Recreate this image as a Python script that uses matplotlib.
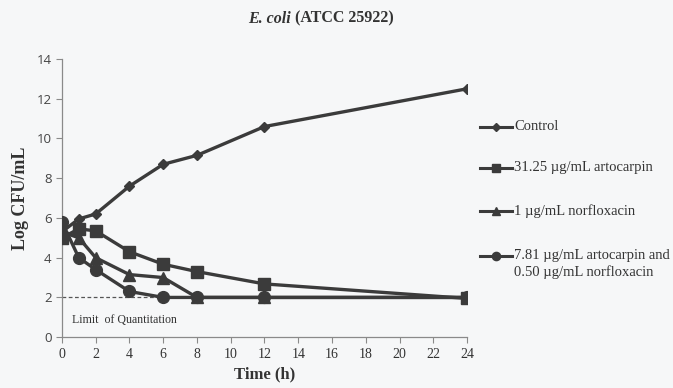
import matplotlib
matplotlib.use("Agg")
import matplotlib.pyplot as plt
from matplotlib.lines import Line2D

# sampling times (h)
time_h = [0, 1, 2, 4, 6, 8, 12, 24]

# log CFU/mL for each treatment
control = [5.3, 5.95, 6.2, 7.6, 8.7, 9.15, 10.6, 12.5]
artocarpin = [5.0, 5.45, 5.35, 4.3, 3.67, 3.3, 2.68, 1.95]
norfloxacin = [5.3, 5.0, 4.0, 3.15, 3.0, 2.0, 2.0, 2.0]
combination = [5.8, 4.0, 3.4, 2.3, 2.0, 2.0, 2.0, 2.0]

labels = ["Control",
          "31.25 \u00b5g/mL artocarpin",
          "1 \u00b5g/mL norfloxacin",
          "7.81 \u00b5g/mL artocarpin and\n0.50 \u00b5g/mL norfloxacin"]
loq = 2.0

serif = ["Liberation Serif", "DejaVu Serif"]
line_col = "#3b3b3b"
bg = "#f6f7f8"

fig = plt.figure(figsize=(6.73, 3.88), dpi=100, facecolor=bg)
ax = fig.add_axes([0.092, 0.131, 0.602, 0.717], facecolor=bg)

series = [
    (control, "D", 5.5),
    (artocarpin, "s", 8),
    (norfloxacin, "^", 8),
    (combination, "o", 8.5),
]

ax.plot([0, 24], [loq, loq], ls=(0, (3, 2)), color="#555555", lw=0.9, zorder=1)
for ys, mk, ms in series:
    ax.plot(time_h, ys, color=line_col, lw=2.4, marker=mk, ms=ms,
            markerfacecolor=line_col, markeredgecolor=line_col, zorder=3)

ax.text(0.6, 0.85, "Limit  of Quantitation", fontsize=8.6, family=serif,
        color="#333333", va="center")

ax.set_xlim(0, 24)
ax.set_ylim(0, 14)
ax.set_xticks(range(0, 25, 2))
ax.set_yticks(range(0, 15, 2))
for s in ["top", "right"]:
    ax.spines[s].set_visible(False)
for s in ["left", "bottom"]:
    ax.spines[s].set_color("#8a8a8a")
    ax.spines[s].set_linewidth(0.9)
ax.tick_params(axis="both", colors="#8a8a8a", length=4, width=0.8)
for lab in ax.get_xticklabels():
    lab.set_family(serif)
    lab.set_fontsize(10)
    lab.set_color("#333333")
for lab in ax.get_yticklabels():
    lab.set_family(["Open Sans", "DejaVu Sans"])
    lab.set_fontsize(9.5)
    lab.set_color("#444444")

ax.set_xlabel("Time (h)", family=serif, fontsize=12, fontweight="bold",
              color="#333333", labelpad=4)
ax.set_ylabel("Log CFU/mL", family=serif, fontsize=13, fontweight="bold",
              color="#333333", labelpad=5)

fig.text(0.432, 0.952, "E. coli", family=serif, fontsize=11.5,
         fontweight="bold", fontstyle="italic", color="#333333",
         ha="right", va="center")
fig.text(0.438, 0.952, "(ATCC 25922)", family=serif, fontsize=11.5,
         fontweight="bold", color="#333333", ha="left", va="center")

# legend drawn by hand so the handle sits on the first text line
leg_y = [127, 168, 211, 256]
x0, x1 = 480 / 673, 512 / 673
for (ys, mk, ms), lab, py in zip(series, labels, leg_y):
    fy = 1 - py / 388
    fig.add_artist(Line2D([x0, (x0 + x1) / 2, x1], [fy, fy, fy],
                          color=line_col, lw=2.2, marker=mk, ms=ms * 0.7,
                          markevery=[1], markerfacecolor=line_col,
                          markeredgecolor=line_col, transform=fig.transFigure))
    for i, part in enumerate(lab.split("\n")):
        fig.text(514 / 673, fy - i * 16 / 388, part, family=serif,
                 fontsize=10.5, color="#333333", ha="left", va="center")

fig.savefig("out.png", dpi=100, facecolor=bg)
